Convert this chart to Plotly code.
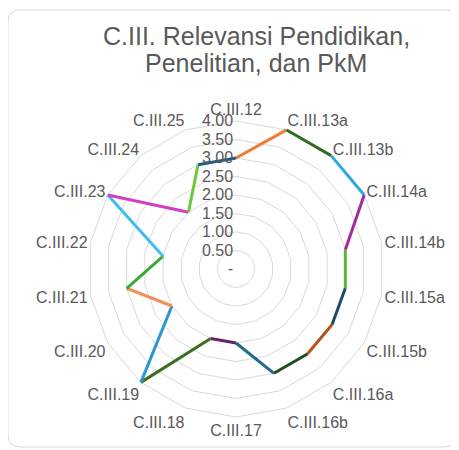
import plotly.graph_objects as go

# Radar categories (clockwise from the top) and their scores
CATEGORIES = [
    "C.III.12", "C.III.13a", "C.III.13b", "C.III.14a", "C.III.14b", "C.III.15a",
    "C.III.15b", "C.III.16a", "C.III.16b", "C.III.17", "C.III.18", "C.III.19",
    "C.III.20", "C.III.21", "C.III.22", "C.III.23", "C.III.24", "C.III.25",
]
SCORES = [3, 4, 4, 4, 3, 3, 3, 3, 3, 2, 2, 4, 2, 3, 2, 4, 2, 3]

RADIAL_TICKS = [0, 0.5, 1, 1.5, 2, 2.5, 3, 3.5, 4]
RADIAL_LABELS = ["-", "0.50", "1.00", "1.50", "2.00", "2.50", "3.00", "3.50", "4.00"]

# Each segment (point i -> point i+1) has its own colour, as in the source sheet.
SEGMENT_COLORS = [
    "#ED7D31", "#2F6B20", "#2CA8E0", "#A42B9E", "#5BB33A", "#1C4E63",
    "#B5521A", "#1F4D1E", "#1E6C8C", "#6A1F6A", "#3B6E1E", "#2A95CF",
    "#F29157", "#3AAA35", "#3DBDF0", "#CF3FC9", "#6CC73A", "#1F5E86",
]

# the page body has an 8px margin, so work in window pixels minus that
OFF = 8
W, H = 459 - OFF, 450 - OFF
TEXT = "#595959"
GRID = "#D9D9D9"
FONT = "Liberation Sans, Arial, Helvetica, sans-serif"
R_MAX = 4.06  # a little headroom so lines on the 4.00 ring are not clipped


def px(x):
    return (x - OFF) / W


def py(y):
    return 1 - (y - OFF) / H


fig = go.Figure()

n = len(CATEGORIES)
for i in range(n):
    j = (i + 1) % n
    fig.add_trace(go.Scatterpolar(
        r=[SCORES[i], SCORES[j]],
        theta=[CATEGORIES[i], CATEGORIES[j]],
        mode="lines",
        line={"color": SEGMENT_COLORS[i], "width": 3},
        cliponaxis=False,
        showlegend=False,
        hoverinfo="skip",
    ))

# polar area: centre ~(236, 270) px in the window, 4.00 ring at ~148 px
cx, cy = 236, 269
rad = 148 * R_MAX / 4
fig.update_layout(
    width=W,
    height=H,
    margin={"l": 0, "r": 0, "t": 0, "b": 0},
    paper_bgcolor="white",
    font={"family": FONT, "color": TEXT, "size": 16},
    polar={
        "domain": {"x": [px(cx - rad), px(cx + rad)],
                   "y": [py(cy + rad), py(cy - rad)]},
        "bgcolor": "white",
        "gridshape": "linear",
        "angularaxis": {
            "type": "category",
            "categoryarray": CATEGORIES,
            "direction": "clockwise",
            "rotation": 90,
            "showgrid": False,
            "showline": False,
            "ticks": "",
            "tickfont": {"size": 16, "color": TEXT},
        },
        "radialaxis": {
            "range": [0, R_MAX],
            "angle": 90,
            "tickangle": 90,
            "side": "counterclockwise",
            "tickvals": RADIAL_TICKS,
            "ticktext": RADIAL_LABELS,
            "showline": False,
            "ticks": "",
            "gridcolor": GRID,
            "gridwidth": 1,
            "tickfont": {"size": 16, "color": TEXT},
        },
    },
)

# title, two lines
for txt, ty in [("C.III. Relevansi Pendidikan,", 36.5), ("Penelitian, dan PkM", 63)]:
    fig.add_annotation(
        text=txt, xref="paper", yref="paper", x=px(256), y=py(ty),
        xanchor="center", yanchor="middle", showarrow=False,
        font={"family": FONT, "size": 25, "color": TEXT},
    )

# rounded card border
x0, y0, x1, y1, rr = 8, 10, 457, 447, 12
path = (
    f"M {px(x0 + rr)},{py(y0)} L {px(x1 - rr)},{py(y0)} "
    f"Q {px(x1)},{py(y0)} {px(x1)},{py(y0 + rr)} "
    f"L {px(x1)},{py(y1 - rr)} Q {px(x1)},{py(y1)} {px(x1 - rr)},{py(y1)} "
    f"L {px(x0 + rr)},{py(y1)} Q {px(x0)},{py(y1)} {px(x0)},{py(y1 - rr)} "
    f"L {px(x0)},{py(y0 + rr)} Q {px(x0)},{py(y0)} {px(x0 + rr)},{py(y0)} Z"
)
fig.add_shape(type="path", path=path, xref="paper", yref="paper",
              line={"color": GRID, "width": 1}, layer="below")

fig.write_html("out.html")
